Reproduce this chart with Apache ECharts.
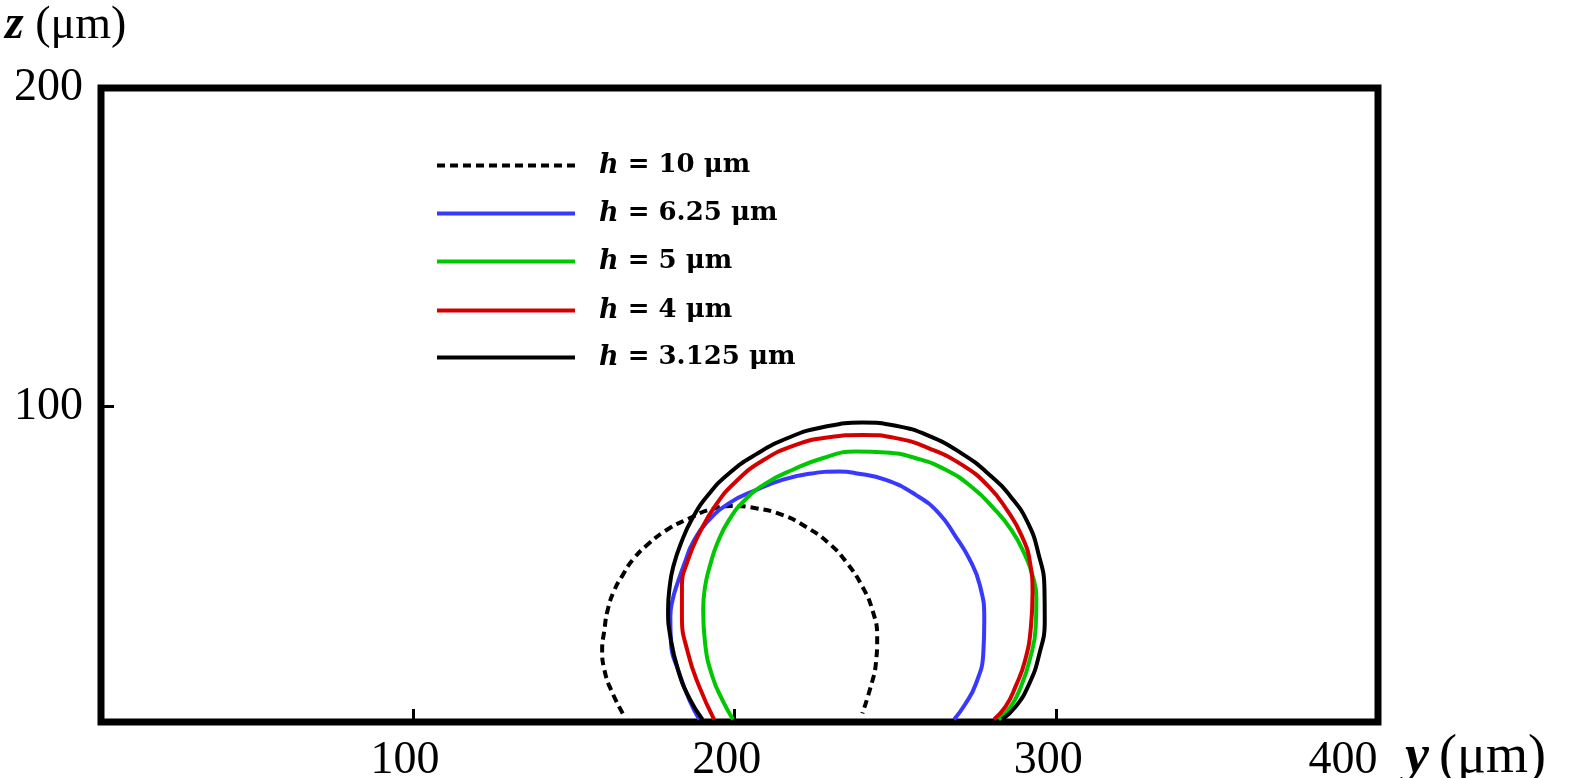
<!DOCTYPE html>
<html>
<head>
<meta charset="utf-8">
<script src="https://cdn.jsdelivr.net/npm/echarts@6/dist/echarts.min.js"></script>
<style>
html,body{margin:0;padding:0;background:#fff;}
#chart{width:1575px;height:778px;}
</style>
</head>
<body>
<div id="chart"></div>
<script>
// ---- data (y, z in µm) ----
var seriesNames = ['h = 10 μm', 'h = 6.25 μm', 'h = 5 μm', 'h = 4 μm', 'h = 3.125 μm'];
var xTickValues = [100, 200, 300];
var xLabelValues = [100, 200, 300, 400];
var yTickValues = [100];
var yLabelValues = [100, 200];

var h10 = [[165.2,3.7],[161.6,11.0],[159.5,17.3],[158.8,23.6],[159.5,29.9],[160.5,36.1],[162.6,42.4],[165.2,47.1],[168.3,51.9],[173.4,57.1],[179.7,61.8],[185.9,64.9],[192.1,67.6],[199.3,68.8],[206.6,68.1],[214.8,66.0],[222.1,62.3],[229.3,57.1],[235.0,50.8],[239.7,43.5],[242.8,36.2],[244.3,27.8],[243.9,19.4],[242.3,12.1],[239.7,3.7]];
var h625 = [[189.0,1.8],[185.9,7.9],[182.8,16.3],[180.2,25.7],[180.0,34.0],[180.7,39.3],[182.2,44.5],[184.8,51.9],[186.9,57.1],[191.1,63.4],[198.3,69.7],[206.6,73.8],[214.8,77.0],[223.1,78.9],[232.5,79.6],[237.6,79.1],[247.0,77.0],[256.3,72.3],[263.5,66.5],[268.7,59.2],[272.8,52.5],[276.2,44.0],[277.6,33.0],[277.3,22.6],[275.0,13.0],[271.6,6.5],[268.2,1.8]];
var h5 = [[199.5,1.8],[196.2,7.9],[193.1,15.2],[190.8,25.7],[190.2,36.2],[190.8,43.5],[192.3,50.0],[194.6,57.1],[198.3,64.5],[203.5,71.0],[209.7,75.9],[217.9,80.1],[227.3,83.8],[237.6,85.9],[247.0,85.6],[256.3,83.8],[265.6,80.2],[273.9,74.6],[280.6,68.0],[286.0,61.3],[290.0,54.0],[292.6,47.0],[293.8,40.0],[293.6,30.9],[291.7,20.4],[289.0,12.1],[285.8,5.8],[282.1,1.8]];
var h4 = [[193.6,1.8],[189.0,12.1],[185.5,22.6],[183.6,34.0],[183.6,43.5],[185.5,51.9],[189.0,60.2],[194.2,69.2],[200.4,76.5],[208.6,83.0],[219.0,88.0],[229.3,90.4],[239.7,91.1],[250.1,90.1],[260.4,86.9],[270.7,81.7],[279.0,74.9],[285.0,67.0],[289.2,59.5],[291.8,51.2],[292.6,41.4],[292.1,30.9],[290.3,20.4],[287.3,12.1],[284.2,5.8],[280.6,1.8]];
var h3125 = [[190.0,1.8],[185.9,8.5],[182.4,17.3],[180.0,27.8],[179.3,36.2],[179.8,43.5],[180.9,49.7],[183.3,57.1],[186.9,65.0],[191.8,72.3],[198.3,79.1],[206.6,85.0],[216.9,90.3],[227.3,93.5],[239.7,95.0],[250.1,94.0],[260.4,90.8],[270.4,85.4],[279.0,78.8],[286.0,71.5],[291.2,63.4],[294.4,54.0],[296.3,43.0],[296.4,33.0],[294.5,21.5],[291.4,12.6],[287.5,6.0],[283.2,1.8]];

var allData = [h10, h625, h5, h4, h3125];
var colors = ['#000000', '#3838ff', '#00c800', '#d40000', '#000000'];
var lineTypes = [[8, 5], 'solid', 'solid', 'solid', 'solid'];

var serif = 'Liberation Serif';
var legendFont = 'DejaVu Serif';
var legendLineY = [162, 210, 258, 307, 354];

var chart = echarts.init(document.getElementById('chart'), null, {renderer: 'canvas'});

var series = allData.map(function (d, i) {
  return {
    name: seriesNames[i],
    type: 'line',
    data: d,
    symbol: 'none',
    showSymbol: false,
    smooth: 0.5,
    clip: false,
    lineStyle: {color: colors[i], width: 4, type: lineTypes[i]},
    itemStyle: {color: colors[i]},
    z: 3 + i
  };
});

var legends = seriesNames.map(function (n, i) {
  return {
    data: [n],
    left: 430,
    top: legendLineY[i] - 15,
    itemWidth: 138,
    itemHeight: 20,
    selectedMode: false,
    lineStyle: {width: 4},
    itemStyle: {opacity: 0, borderWidth: 0},
    formatter: function (name) { return '{i|h}' + name.slice(1); },
    textStyle: {
      fontFamily: legendFont, fontSize: 26, fontWeight: 'bold', color: '#000',
      padding: [0, 0, 0, 19],
      rich: {i: {fontFamily: legendFont, fontSize: 27, fontStyle: 'italic', fontWeight: 'bold', color: '#000'}}
    }
  };
});

var option = {
  animation: false,
  backgroundColor: '#fff',
  grid: {left: 101, right: 197, top: 88, bottom: 56, show: true, borderWidth: 7, borderColor: '#000',
         backgroundColor: 'transparent', containLabel: false, outerBoundsMode: 'none'},
  legend: legends,
  xAxis: {
    type: 'value', min: 3, max: 400,
    axisLine: {show: false},
    splitLine: {show: false},
    axisTick: {show: true, inside: true, length: 13, customValues: xTickValues, lineStyle: {color: '#000', width: 3}},
    axisLabel: {
      customValues: xLabelValues, margin: 16,
      formatter: function (v) { return v === 400 ? '{e|' + v + '}' : '{n|' + v + '}'; },
      rich: {
        n: {fontFamily: serif, fontSize: 46, color: '#000', padding: [0, 16, 0, 0]},
        e: {fontFamily: serif, fontSize: 46, color: '#000', padding: [0, 70, 0, 0]}
      }
    }
  },
  yAxis: {
    type: 'value', min: 1, max: 200,
    axisLine: {show: false},
    splitLine: {show: false},
    axisTick: {show: true, inside: true, length: 13, customValues: yTickValues, lineStyle: {color: '#000', width: 3}},
    axisLabel: {customValues: yLabelValues, margin: 18, fontFamily: serif, fontSize: 46, color: '#000'}
  },
  graphic: [
    {
      type: 'text', left: 5, top: 2,
      style: {
        text: '{b|z} (μm)', fontFamily: serif, fontSize: 46, fill: '#000',
        rich: {b: {fontFamily: serif, fontSize: 48, fontStyle: 'italic', fontWeight: 'bold'}}
      }
    },
    {
      type: 'text', left: 1405, top: 731,
      style: {
        text: '{b|y}{s| }{p|(μm)}', fontFamily: serif, fontSize: 54, fill: '#000',
        rich: {
          b: {fontFamily: serif, fontSize: 54, fontStyle: 'italic', fontWeight: 'bold'},
          s: {fontFamily: serif, fontSize: 40},
          p: {fontFamily: serif, fontSize: 54}
        }
      }
    }
  ],
  series: series
};
chart.setOption(option);
</script>
</body>
</html>
